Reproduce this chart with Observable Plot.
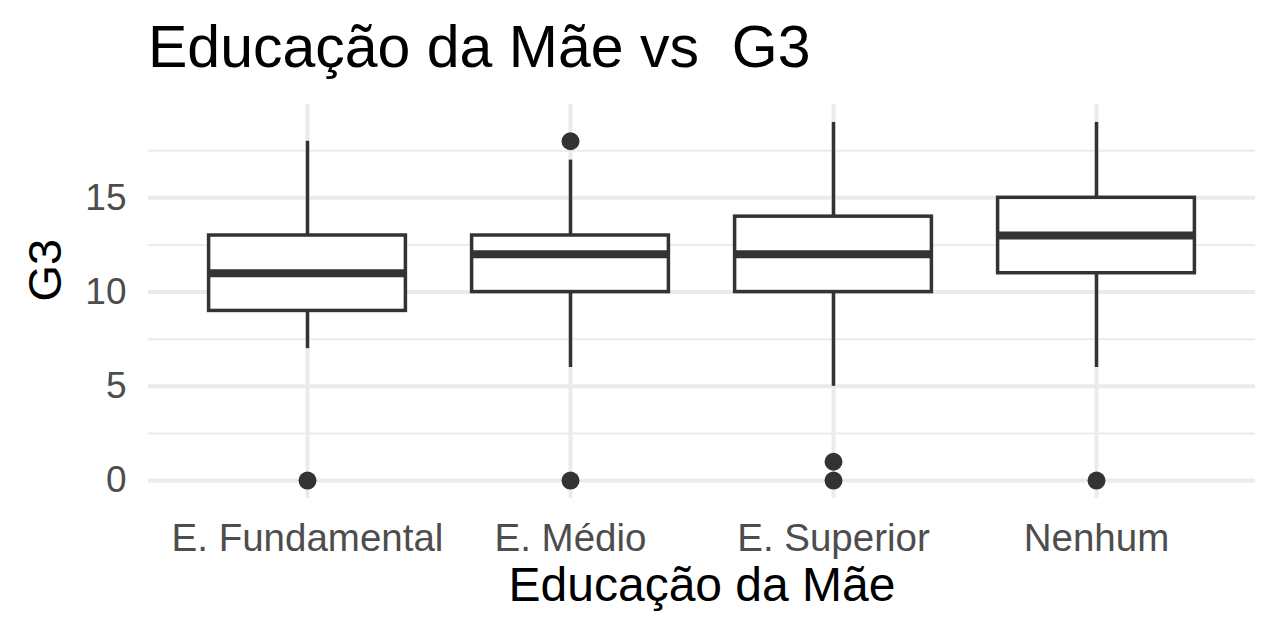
<!DOCTYPE html>
<html>
<head>
<meta charset="utf-8">
<script src="https://cdn.jsdelivr.net/npm/d3@7"></script>
<script src="https://cdn.jsdelivr.net/npm/@observablehq/plot@0.6"></script>
<style>
  html, body { margin: 0; padding: 0; background: #ffffff; }
  body { width: 1280px; height: 640px; overflow: hidden; font-family: "Liberation Sans", Arial, sans-serif; }
  #title { position: relative; height: 90px; }
  #title span { position: absolute; left: 148px; top: 18px; font-size: 59px; line-height: 59px; color: #000; white-space: pre; }
</style>
</head>
<body>
<div id="title"><span id="titleText"></span></div>
<div id="chart"></div>
<script>
const titleText = "Educação da Mãe vs  G3";
const xLabel = "Educação da Mãe";
const yLabel = "G3";
const categories = ["E. Fundamental", "E. Médio", "E. Superior", "Nenhum"];
const whiskerLow = [7, 6, 5, 6];
const q1 = [9, 10, 10, 11];
const median = [11, 12, 12, 13];
const q3 = [13, 13, 14, 15];
const whiskerHigh = [18, 17, 19, 19];
const outlierCategory = ["E. Fundamental", "E. Médio", "E. Médio", "E. Superior", "E. Superior", "Nenhum"];
const outlierValue = [0, 18, 0, 0, 1, 0];
const majorTicks = [0, 5, 10, 15];
const minorTicks = [2.5, 7.5, 12.5, 17.5];

document.getElementById("titleText").textContent = titleText;

const boxes = categories.map((c, i) => ({cat: c, lo: whiskerLow[i], q1: q1[i], med: median[i], q3: q3[i], hi: whiskerHigh[i]}));
const outliers = outlierCategory.map((c, i) => ({cat: c, v: outlierValue[i]}));

const ink = "#333333";
const grid = "#EBEBEB";
const inset = 6.6;

const chart = Plot.plot({
  width: 1280,
  height: 550,
  marginTop: 14,
  marginBottom: 142,
  marginLeft: 148,
  marginRight: 25,
  style: {fontFamily: "Liberation Sans, Arial, sans-serif", background: "#ffffff"},
  x: {domain: categories, padding: 0.2, axis: null},
  y: {domain: [-0.95, 19.95], axis: null},
  marks: [
    Plot.ruleY(minorTicks, {stroke: grid, strokeWidth: 2}),
    Plot.ruleY(majorTicks, {stroke: grid, strokeWidth: 4}),
    Plot.ruleX(categories, {x: d => d, stroke: grid, strokeWidth: 4}),
    Plot.axisY({ticks: majorTicks, tickSize: 0, tickPadding: 22, fontSize: 37, fill: "#4D4D4D", label: null}),
    Plot.axisX({tickSize: 0, tickPadding: 25, fontSize: 38.5, fill: "#4D4D4D", label: null}),
    Plot.ruleX(boxes, {x: "cat", y1: "q3", y2: "hi", stroke: ink, strokeWidth: 3.5}),
    Plot.ruleX(boxes, {x: "cat", y1: "lo", y2: "q1", stroke: ink, strokeWidth: 3.5}),
    Plot.barY(boxes, {x: "cat", y1: "q1", y2: "q3", fill: "#ffffff", stroke: ink, strokeWidth: 3.5, insetLeft: inset, insetRight: inset}),
    Plot.tickY(boxes, {x: "cat", y: "med", stroke: ink, strokeWidth: 8, insetLeft: inset, insetRight: inset}),
    Plot.dot(outliers, {x: "cat", y: "v", r: 9, fill: ink, stroke: null}),
    Plot.text([xLabel], {text: d => d, frameAnchor: "bottom", dy: 102, fontSize: 48, fill: "#000000"}),
    Plot.text([yLabel], {text: d => d, frameAnchor: "left", rotate: -90, dx: -103, fontSize: 47, fill: "#000000"})
  ]
});
document.getElementById("chart").appendChild(chart);
</script>
</body>
</html>
